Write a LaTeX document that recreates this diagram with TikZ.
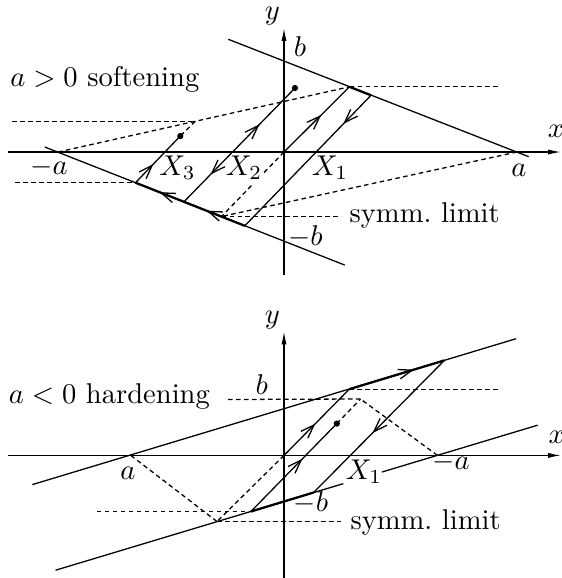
\documentclass[tikz,border=0pt]{standalone}
\usetikzlibrary{arrows.meta,decorations.markings,calc}
\begin{document}
\begin{tikzpicture}[x=0.35pt,y=-0.35pt,
  every node/.style={inner sep=0pt},
  lbl/.style={font=\fontsize{10}{12}\selectfont},
  ln/.style={line width=0.45pt},
  thk/.style={line width=0.8pt},
  dsh/.style={line width=0.45pt,dash pattern=on 1.6pt off 1.2pt},
  axis/.style={line width=0.45pt,-{Latex[length=4.5pt,width=1.8pt]}},
  arr/.style={postaction={decorate,decoration={markings,mark=at position #1 with {\arrow{Straight Barb[length=4.8pt,width=3.4pt,line width=0.45pt]}}}}},
  rarr/.style={postaction={decorate,decoration={markings,mark=at position #1 with {\arrowreversed{Straight Barb[length=4.8pt,width=3.4pt,line width=0.45pt]}}}}},
  dot/.style={circle,fill,inner sep=0pt,minimum size=2.2pt}
]
\useasboundingbox (0,0) rectangle (562,578);

% ---------------- top panel ----------------
\coordinate (O) at (284,152);
\coordinate (P1) at (349.5,86.8);
\coordinate (P2) at (371,95.3);
\coordinate (L1) at (244.8,225.8);
\coordinate (L2) at (183.9,201.8);
\coordinate (L3) at (135.5,182.7);
\coordinate (S) at (221.5,216.5);
\coordinate (D2) at (295,88);
\coordinate (D3) at (180.3,136);
\coordinate (Q3) at (195.3,121.3);
\coordinate (A) at (517,152);
\coordinate (mA) at (58,152);
\coordinate (U1) at (228.3,39.3);
\coordinate (U2) at (528.7,156.7);
\coordinate (W1) at (44.8,147);
\coordinate (W2) at (344.8,265.1);
\coordinate (XL) at (8,152);
\coordinate (XR) at (561,152);
\coordinate (YB) at (284,275);
\coordinate (YT) at (284,28);
\coordinate (h1) at (12.5,121.3);
\coordinate (h2) at (15,182.7);
\coordinate (h3) at (500,86.8);
\coordinate (h4) at (341.5,216.5);
\coordinate (g1) at ($(O)!0.33!(S)$);
\coordinate (g2) at ($(O)!0.52!(S)$);

\draw[axis] (XL) -- (XR);
\draw[axis] (YB) -- (YT);
\draw[ln] (U1) -- (U2);
\draw[ln] (W1) -- (W2);
\draw[thk] (P1) -- (P2);
\draw[thk,arr=0.35,arr=0.78] (L1) -- (L3);
\draw[ln,arr=0.57] (O) -- (P1);
\draw[ln,arr=0.22] (P2) -- (L1);
\draw[ln,arr=0.68,rarr=0.24] (L2) -- (D2);
\draw[ln,arr=0.4] (L3) -- (D3);

\draw[dsh] (mA) -- (P1);
\draw[dsh] (A) -- (S);
\draw[dsh] (O) -- (g1);
\draw[dsh] (g2) -- (S);
\draw[dsh] (Q3) -- (D3);
\draw[dsh] (h1) -- (Q3);
\draw[dsh] (h2) -- (L3);
\draw[dsh] (P1) -- (h3);
\draw[dsh] (S) -- (h4);

\node[dot] (dD2) at (D2) {};
\node[dot] (dD3) at (D3) {};

\node[lbl] (ty) at (272.5,16) {$y$};
\node[lbl] (tb) at (300,46.5) {$b$};
\node[lbl] (tma) at (49,167) {$-a$};
\node[lbl] (ta) at (519,170) {$a$};
\node[lbl] (tx) at (556,131) {$x$};
\node[lbl] (tX3) at (177.5,168) {$X_3$};
\node[lbl] (tX2) at (244,168) {$X_2$};
\node[lbl] (tX1) at (330,168) {$X_1$};
\node[lbl] (tsym) at (424.7,215.6) {symm.\ limit};
\node[lbl] (tmb) at (305.5,236.6) {$-b$};
\node[lbl] (tsoft) at (104.8,79.7) {$a>0$ softening};

% ---------------- bottom panel ----------------
\coordinate (bO) at (284,455.4);
\coordinate (bP1) at (349.3,389.2);
\coordinate (bP2) at (444.4,360.4);
\coordinate (bL2) at (313.6,492.5);
\coordinate (bL1) at (250.9,511.5);
\coordinate (bD) at (336.8,423.6);
\coordinate (bQ) at (360.5,399);
\coordinate (bS) at (217,521.5);
\coordinate (bA) at (130.8,455.4);
\coordinate (bmA) at (437.5,455.4);
\coordinate (bU1) at (32.3,484.6);
\coordinate (bU2) at (516.1,338.7);
\coordinate (bW1) at (55.6,570.2);
\coordinate (bW2) at (537.6,425.2);
\coordinate (bXL) at (8,455.4);
\coordinate (bXR) at (561,455.4);
\coordinate (bYB) at (284,578);
\coordinate (bYT) at (284,331.5);
\coordinate (bh1) at (228,399.5);
\coordinate (bh2) at (500,389.2);
\coordinate (bh3) at (96.8,511.5);
\coordinate (bh4) at (340.5,521.5);
\coordinate (bg1) at ($(bW1)!0.597!(bW2)$);
\coordinate (bg2) at ($(bW1)!0.677!(bW2)$);

\draw[axis] (bXL) -- (bXR);
\draw[axis] (bYB) -- (bYT);
\draw[ln] (bU1) -- (bU2);
\draw[ln] (bW1) -- (bg1);
\draw[ln] (bg2) -- (bW2);
\draw[thk,arr=0.68] (bP1) -- (bP2);
\draw[thk] (bL1) -- (bL2);
\draw[ln,arr=0.48] (bO) -- (bP1);
\draw[ln,arr=0.6] (bL1) -- (bD);
\draw[ln,arr=0.55] (bP2) -- (bL2);

\draw[dsh] (bO) -- (bS);
\draw[dsh] (bA) -- (bS);
\draw[dsh] (bmA) -- (bQ);
\draw[dsh] (bD) -- (bQ);
\draw[dsh] (bh1) -- (bQ);
\draw[dsh] (bP1) -- (bh2);
\draw[dsh] (bh3) -- (bL1);
\draw[dsh] (bS) -- (bh4);

\node[dot] (dbD) at (bD) {};

\node[lbl] (by) at (272.5,320) {$y$};
\node[lbl] (bb) at (261.7,385) {$b$};
\node[lbl] (bhard) at (109.4,396.5) {$a<0$ hardening};
\node[lbl] (ba) at (128,473) {$a$};
\node[lbl] (bma) at (451,462.5) {$-a$};
\node[lbl] (bX1) at (364,471.7) {$X_1$};
\node[lbl] (bmb) at (311,503) {$-b$};
\node[lbl] (bsym) at (425.6,522.4) {symm.\ limit};
\node[lbl] (bx) at (556.7,437.5) {$x$};
\end{tikzpicture}
\end{document}
